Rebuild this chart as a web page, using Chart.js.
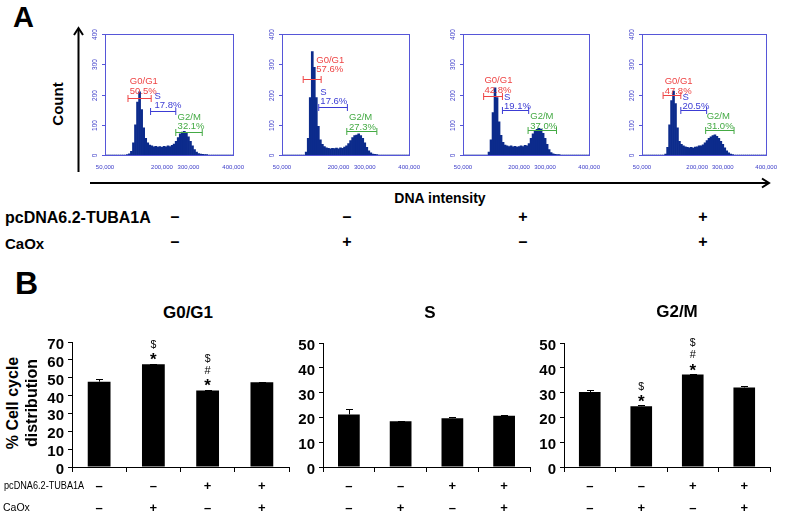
<!DOCTYPE html>
<html>
<head>
<meta charset="utf-8">
<script src="https://cdn.jsdelivr.net/npm/chart.js@4.4.0/dist/chart.umd.min.js"></script>
<style>
body{margin:0;width:787px;height:513px;background:#fff;position:relative;overflow:hidden;font-family:"Liberation Sans",Arial,sans-serif;color:#000}
canvas{position:absolute}
.t{position:absolute;white-space:nowrap;transform:translate(-50%,-50%);line-height:1}
.l{transform:translate(0,-50%)}
.yl{transform:translate(-100%,-50%);z-index:5}
.r{transform:translate(-50%,-50%) rotate(-90deg)}
svg{position:absolute;left:0;top:0}
</style>
</head>
<body>
<svg width="787" height="513">
  <g stroke="#000" stroke-width="2" fill="none">
    <line x1="78.5" y1="172" x2="78.5" y2="29"/>
    <polyline points="74,35 78.5,28 83,35"/>
    <line x1="90" y1="183" x2="768" y2="183"/>
    <polyline points="762,178.5 769,183 762,187.5"/>
  </g>
</svg>
<canvas id="h1" width="173" height="153" style="left:80px;top:24px"></canvas>
<canvas id="h2" width="172" height="153" style="left:257px;top:24px"></canvas>
<canvas id="h3" width="171" height="153" style="left:438px;top:24px"></canvas>
<canvas id="h4" width="169" height="153" style="left:617px;top:24px"></canvas>
<canvas id="b1" width="262" height="150" style="left:35px;top:330px"></canvas>
<canvas id="b2" width="249" height="150" style="left:289px;top:330px"></canvas>
<canvas id="b3" width="248" height="150" style="left:530px;top:330px"></canvas>
<script>
// histogram counts (DNA content bins)
var histCounts1 = [0,0,0,0,0,0,0,0,0,0, 0,1,4,12,40,100,175,209,150,90, 55,40,33,30,27,29,26,28,25,29, 27,30,28,32,36,45,58,70,76,78, 72,60,45,30,18,10,5,3,2,1, 1,0,0,0,0,0,0,0,0,0, 0,0,0,0];
var histCounts2 = [0,0,0,0,0,0,0,0,0,0, 0,0,10,55,190,342,290,190,95,50, 35,28,24,22,20,22,21,23,20,24, 22,26,30,38,48,58,64,66,70,64, 55,40,25,14,7,3,2,1,0,0, 0,0,0,0,0,0,0,0,0,0, 0,0,0,0];
var histCounts3 = [0,0,0,0,0,0,0,0,0,0, 0,0,0,10,50,140,222,190,110,65, 42,33,30,28,30,27,29,26,28,30, 28,32,30,38,55,70,80,85,88,85, 72,55,35,18,8,4,2,1,1,0, 0,0,0,0,0,0,0,0,0,0, 0,0,0,0];
var histCounts4 = [0,0,0,0,0,0,0,0,0,0, 0,0,3,25,100,180,211,170,90,45, 35,30,27,25,24,25,23,26,27,30, 30,34,40,48,55,60,64,67,62,55, 45,35,24,14,7,3,1,0,0,0, 0,0,0,0,0,0,0,0,0,0, 0,0,0,0];
var histTicks = ['50,000','200,000','300,000','400,000'];
var histTickAt = [0, 28, 41, 63];
var countTicks = [0, 100, 200, 300, 400];
var g1Pct = ['50.5%','57.6%','42.8%','47.8%'];
var sPct = ['17.8%','17.6%','19.1%','20.5%'];
var g2Pct = ['32.1%','27.3%','37.0%','31.0%'];

// panel B
var tuba = ['–','–','+','+'];
var caox = ['–','+','–','+'];
var g0g1Mean = [47.8, 57.5, 42.9, 47.4];
var g0g1Err = [1.5, 0.3, 0.4, 0.3];
var sMean = [21.2, 18.4, 19.7, 20.7];
var sErr = [2.2, 0.3, 0.3, 0.2];
var g2mMean = [30.2, 24.5, 37.3, 32.1];
var g2mErr = [1.0, 0.3, 0.2, 0.4];
var g0g1Marks = [[], ['*','$'], ['*','#','$'], []];
var sMarks = [[], [], [], []];
var g2mMarks = [[], ['*','$'], ['*','#','$'], []];

Chart.defaults.font.family = '"Liberation Sans", Arial, sans-serif';
var RED = '#ee4444', BLUE = '#3c3cd4', GREEN = '#44aa44';

function addText(txt, x, y, cls, css) {
  var d = document.createElement('div');
  d.className = 't ' + (cls || '');
  d.textContent = txt;
  d.style.left = x + 'px';
  d.style.top = y + 'px';
  d.style.cssText += css || '';
  document.body.appendChild(d);
}

var histDecor = {
  id: 'histDecor',
  afterDatasetsDraw: function(chart, args, opts) {
    var ctx = chart.ctx, a = chart.chartArea, xs = chart.scales.x, ys = chart.scales.y;
    ctx.save();
    ctx.strokeStyle = '#5656d8';
    ctx.lineWidth = 1;
    ctx.strokeRect(Math.round(a.left) + 0.5, Math.round(a.top) + 0.5, Math.round(a.right - a.left), Math.round(a.bottom - a.top));
    ctx.fillStyle = '#3b3bc8';
    ctx.font = '6.5px "Liberation Sans"';
    ctx.textAlign = 'center';
    ctx.textBaseline = 'middle';
    countTicks.forEach(function(v) {
      var y = Math.round(ys.getPixelForValue(v)) + 0.5;
      ctx.beginPath(); ctx.moveTo(a.left - 3, y); ctx.lineTo(a.left, y); ctx.stroke();
      ctx.save(); ctx.translate(a.left - 10, y); ctx.rotate(-Math.PI / 2); ctx.fillText(String(v), 0, 0); ctx.restore();
    });
    ctx.textAlign = 'left';
    ctx.textBaseline = 'alphabetic';
    ctx.font = '9.5px "Liberation Sans"';
    opts.gates.forEach(function(g) {
      var x1 = xs.getPixelForValue(g.from), x2 = xs.getPixelForValue(g.to);
      var y = Math.round(ys.getPixelForValue(g.y)) + 0.5;
      ctx.strokeStyle = g.color; ctx.fillStyle = g.color;
      ctx.beginPath();
      ctx.moveTo(x1, y); ctx.lineTo(x2, y);
      ctx.moveTo(x1, y - 3.5); ctx.lineTo(x1, y + 3.5);
      ctx.moveTo(x2, y - 3.5); ctx.lineTo(x2, y + 3.5);
      ctx.stroke();
      var tx = xs.getPixelForValue(g.tx), ty = ys.getPixelForValue(g.ty);
      ctx.fillText(g.pct, tx, ty);
      ctx.fillText(g.name, tx, ty - 9.5);
    });
    ctx.restore();
  }
};

function makeHist(id, counts, gates, padRight) {
  new Chart(document.getElementById(id), {
    type: 'bar',
    data: {
      labels: counts.map(function(c, i) { return i; }),
      datasets: [{ data: counts, backgroundColor: '#0c2b8c', borderWidth: 0, barPercentage: 1, categoryPercentage: 1 }]
    },
    options: {
      responsive: false, animation: false, events: [],
      layout: { padding: { top: 10, right: padRight, left: 0, bottom: 0 } },
      plugins: { legend: { display: false }, tooltip: { enabled: false }, histDecor: { gates: gates } },
      scales: {
        x: {
          offset: false,
          grid: { display: false, drawTicks: false },
          border: { display: false },
          ticks: {
            autoSkip: false, maxRotation: 0, minRotation: 0, padding: 9,
            color: '#3b3bc8', font: { size: 6 },
            callback: function(v, i) { var k = histTickAt.indexOf(i); return k < 0 ? '' : histTicks[k]; }
          },
          afterFit: function(s) { s.height = 22; }
        },
        y: {
          min: 0, max: 400,
          grid: { display: false },
          border: { display: false },
          ticks: { display: false, stepSize: 100 },
          afterFit: function(s) { s.width = 25; }
        }
      }
    },
    plugins: [histDecor]
  });
}

makeHist('h1', histCounts1, [
  { from: 11.3, to: 22.7, y: 190, tx: 12.2, ty: 202, name: 'G0/G1', pct: g1Pct[0], color: RED },
  { from: 22.4, to: 34.8, y: 147, tx: 24.3, ty: 154, name: 'S', pct: sPct[0], color: BLUE },
  { from: 34.8, to: 47.8, y: 77, tx: 35.7, ty: 85, name: 'G2/M', pct: g2Pct[0], color: GREEN }
], 16);
makeHist('h2', histCounts2, [
  { from: 10.5, to: 19.4, y: 251, tx: 17.0, ty: 273, name: 'G0/G1', pct: g1Pct[1], color: RED },
  { from: 18.2, to: 32.4, y: 159, tx: 19.0, ty: 167, name: 'S', pct: sPct[1], color: BLUE },
  { from: 32.1, to: 47.0, y: 79, tx: 33.2, ty: 84, name: 'G2/M', pct: g2Pct[1], color: GREEN }
], 16);
makeHist('h3', histCounts3, [
  { from: 10.3, to: 19.7, y: 194, tx: 10.7, ty: 206, name: 'G0/G1', pct: g1Pct[2], color: RED },
  { from: 19.7, to: 32.8, y: 148, tx: 20.5, ty: 152, name: 'S', pct: sPct[2], color: BLUE },
  { from: 32.5, to: 46.7, y: 83, tx: 33.6, ty: 86, name: 'G2/M', pct: g2Pct[2], color: GREEN }
], 16);
makeHist('h4', histCounts4, [
  { from: 10.7, to: 19.7, y: 197, tx: 11.5, ty: 203, name: 'G0/G1', pct: g1Pct[3], color: RED },
  { from: 19.7, to: 32.8, y: 150, tx: 20.5, ty: 152, name: 'S', pct: sPct[3], color: BLUE },
  { from: 32.3, to: 46.7, y: 83, tx: 32.8, ty: 86, name: 'G2/M', pct: g2Pct[3], color: GREEN }
], 14);

var barDecor = {
  id: 'barDecor',
  afterDatasetsDraw: function(chart, args, opts) {
    var ctx = chart.ctx, ys = chart.scales.y;
    var meta = chart.getDatasetMeta(0);
    ctx.save();
    ctx.strokeStyle = '#000'; ctx.fillStyle = '#000'; ctx.lineWidth = 1;
    ctx.textAlign = 'center'; ctx.textBaseline = 'alphabetic';
    meta.data.forEach(function(el, i) {
      var x = Math.round(el.x) + 0.5;
      var top = ys.getPixelForValue(opts.mean[i] + opts.err[i]);
      var ty = Math.round(top) + 0.5;
      ctx.beginPath();
      ctx.moveTo(x, el.y); ctx.lineTo(x, ty);
      ctx.moveTo(x - 3.5, ty); ctx.lineTo(x + 3.5, ty);
      ctx.stroke();
      opts.marks[i].forEach(function(m, k) {
        var c = top - 7.5 - 12.3 * k;
        if (m === '*') { ctx.font = 'bold 17px "Liberation Sans"'; ctx.fillText(m, el.x, c + 9); }
        else if (m === '#') { ctx.font = '11px "Liberation Sans"'; ctx.fillText(m, el.x, c + 4); }
        else { ctx.font = '10.5px "Liberation Sans"'; ctx.fillText(m, el.x, c + 4); }
      });
    });
    ctx.restore();
  }
};

function makeBars(id, mean, err, marks, max, yw, padTop) {
  var ch = new Chart(document.getElementById(id), {
    type: 'bar',
    data: {
      labels: ['1', '2', '3', '4'],
      datasets: [{ data: mean, backgroundColor: '#000', borderWidth: 0, barPercentage: 0.42, categoryPercentage: 1 }]
    },
    options: {
      responsive: false, animation: false, events: [],
      layout: { padding: { top: padTop, right: 8, left: 0, bottom: 0 } },
      plugins: { legend: { display: false }, tooltip: { enabled: false }, barDecor: { mean: mean, err: err, marks: marks } },
      scales: {
        x: {
          grid: { display: true, drawOnChartArea: false, drawTicks: true, tickLength: 5, color: '#000', offset: true },
          border: { color: '#000', width: 1 },
          ticks: { display: false },
          afterFit: function(s) { s.height = 13; }
        },
        y: {
          min: 0, max: max,
          grid: { drawOnChartArea: false, tickLength: 4, color: '#000' },
          border: { color: '#000', width: 1 },
          ticks: { stepSize: 10, autoSkip: false, padding: 4, color: 'rgba(0,0,0,0)', font: { size: 15, weight: 'bold', lineHeight: 1 } },
          afterFit: function(s) { s.width = yw; }
        }
      }
    },
    plugins: [barDecor]
  });
  var left = parseFloat(ch.canvas.style.left), top = parseFloat(ch.canvas.style.top);
  var ys = ch.scales.y;
  ys.ticks.forEach(function(t) {
    addText(String(t.value), left + ch.chartArea.left - 8, top + ys.getPixelForValue(t.value) + 1, 'yl', 'font-weight:bold;font-size:15px');
  });
  ch.getDatasetMeta(0).data.forEach(function(el, i) {
    addText(tuba[i], left + el.x, 485, '', 'font-weight:bold;font-size:13px');
    addText(caox[i], left + el.x, 507, '', 'font-weight:bold;font-size:13px');
  });
}

makeBars('b1', g0g1Mean, g0g1Err, g0g1Marks, 70, 37, 12);
makeBars('b2', sMean, sErr, sMarks, 50, 34, 13);
makeBars('b3', g2mMean, g2mErr, g2mMarks, 50, 34, 13);

// panel labels and annotations
addText('A', 13, 17, 'l', 'font-weight:bold;font-size:29px');
addText('Count', 57, 104, 'r', 'font-weight:bold;font-size:15px');
addText('DNA intensity', 440, 198, '', 'font-weight:bold;font-size:14px');
addText('pcDNA6.2-TUBA1A', 5, 218, 'l', 'font-weight:bold;font-size:16px');
addText('CaOx', 5, 243, 'l', 'font-weight:bold;font-size:15px');
var aSignX = [175, 347, 523, 703];
aSignX.forEach(function(x, i) {
  addText(tuba[i], x, 217, '', 'font-weight:bold;font-size:16px');
  addText(caox[i], x, 242, '', 'font-weight:bold;font-size:16px');
});
addText('B', 15, 283, 'l', 'font-weight:bold;font-size:32px');
addText('G0/G1', 188, 312, '', 'font-weight:bold;font-size:17px');
addText('S', 430, 312, '', 'font-weight:bold;font-size:17px');
addText('G2/M', 677, 311, '', 'font-weight:bold;font-size:17px');
addText('% Cell cycle', 13, 403, 'r', 'font-weight:bold;font-size:16px');
addText('distribution', 32, 403, 'r', 'font-weight:bold;font-size:16px');
addText('pcDNA6.2-TUBA1A', 4, 485, 'l', 'font-size:10.5px;transform:translate(0,-50%) scaleX(0.87);transform-origin:0 50%');
addText('CaOx', 3, 507, 'l', 'font-size:10.5px');
</script>
</body>
</html>
